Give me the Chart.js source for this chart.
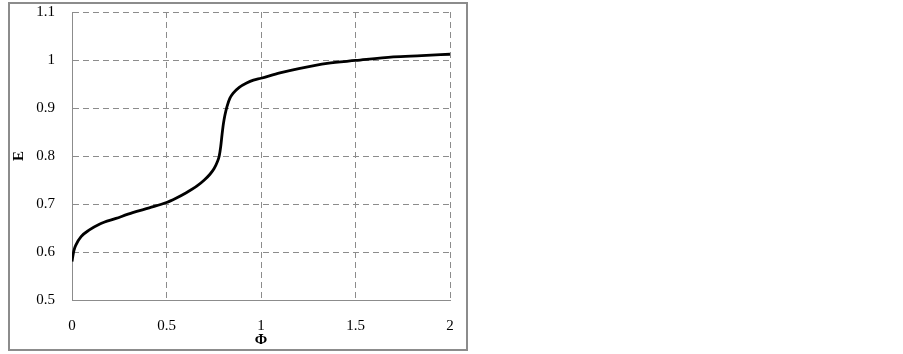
<!DOCTYPE html>
<html>
<head>
<meta charset="utf-8">
<script src="https://cdn.jsdelivr.net/npm/chart.js@4"></script>
<style>
  html, body { margin: 0; padding: 0; background: #fff; }
  #wrap { position: absolute; left: 0; top: 0; width: 903px; height: 354px; }
</style>
</head>
<body>
<div id="wrap"><canvas id="chartE" width="903" height="354"></canvas></div>
<script>
// values
const phi = [0, 0.004, 0.01, 0.021, 0.048, 0.092, 0.145, 0.233, 0.321, 0.409, 0.5, 0.55, 0.607, 0.66, 0.70, 0.73, 0.752, 0.768, 0.779, 0.787, 0.794, 0.801, 0.809, 0.82, 0.835, 0.853, 0.885, 0.924, 0.96, 1.0, 1.1, 1.2, 1.35, 1.5, 1.7, 1.85, 2.0];
const energy = [0.58, 0.59, 0.603, 0.615, 0.632, 0.646, 0.658, 0.670, 0.682, 0.692, 0.703, 0.712, 0.724, 0.737, 0.75, 0.762, 0.774, 0.787, 0.80, 0.82, 0.845, 0.867, 0.885, 0.903, 0.92, 0.931, 0.943, 0.952, 0.958, 0.962, 0.973, 0.982, 0.993, 0.999, 1.0065, 1.009, 1.012];
const xTicks = [0, 0.5, 1, 1.5, 2];
const yTicks = [0.5, 0.6, 0.7, 0.8, 0.9, 1, 1.1];

const points = phi.map((v, i) => ({x: v, y: energy[i]}));
const gridGray = '#8c8c8c';

// outer frame round the whole chart
const framePlugin = {
  id: 'frame',
  afterDraw(chart) {
    const c = chart.ctx;
    c.save();
    c.strokeStyle = '#8c8c8c';
    c.lineWidth = 2;
    c.strokeRect(9, 3, 458, 347);
    c.restore();
  }
};

new Chart(document.getElementById('chartE'), {
  type: 'line',
  data: {
    datasets: [{
      data: points,
      borderColor: '#000',
      borderWidth: 2.8,
      pointRadius: 0,
      fill: false,
      cubicInterpolationMode: 'monotone'
    }]
  },
  options: {
    responsive: false,
    animation: false,
    layout: { padding: { left: 0, top: 12, right: 453, bottom: 0 } },
    plugins: { legend: { display: false }, tooltip: { enabled: false } },
    scales: {
      x: {
        type: 'linear',
        min: 0, max: 2,
        afterBuildTicks: (s) => { s.ticks = xTicks.map(v => ({value: v})); },
        afterFit: (s) => { s.height = 54; s.paddingLeft = 0; s.paddingRight = 0; },
        ticks: {
          color: '#000',
          padding: 17,
          font: { family: 'Liberation Serif', size: 15 },
          callback: (v) => String(v)
        },
        grid: { color: gridGray, lineWidth: 1, drawTicks: false },
        border: { display: true, color: gridGray, width: 1, dash: [6, 4] },
        title: {
          display: true, text: 'Φ', color: '#000',
          font: { family: 'Liberation Serif', size: 15, weight: 'bold' },
          padding: { top: 0, bottom: 5 }
        }
      },
      y: {
        min: 0.5, max: 1.1,
        afterBuildTicks: (s) => { s.ticks = yTicks.map(v => ({value: v})); },
        afterFit: (s) => { s.width = 72; s.paddingTop = 0; s.paddingBottom = 0; },
        ticks: {
          color: '#000',
          padding: 17,
          font: { family: 'Liberation Serif', size: 15 },
          callback: (v) => String(v)
        },
        grid: { color: gridGray, lineWidth: 1, drawTicks: false },
        border: { display: true, color: gridGray, width: 1, dash: [6, 4] },
        title: {
          display: true, text: 'E', color: '#000',
          font: { family: 'Liberation Serif', size: 15, weight: 'bold' },
          padding: { top: 10, bottom: 0 }
        }
      }
    }
  },
  plugins: [framePlugin]
});
</script>
</body>
</html>
